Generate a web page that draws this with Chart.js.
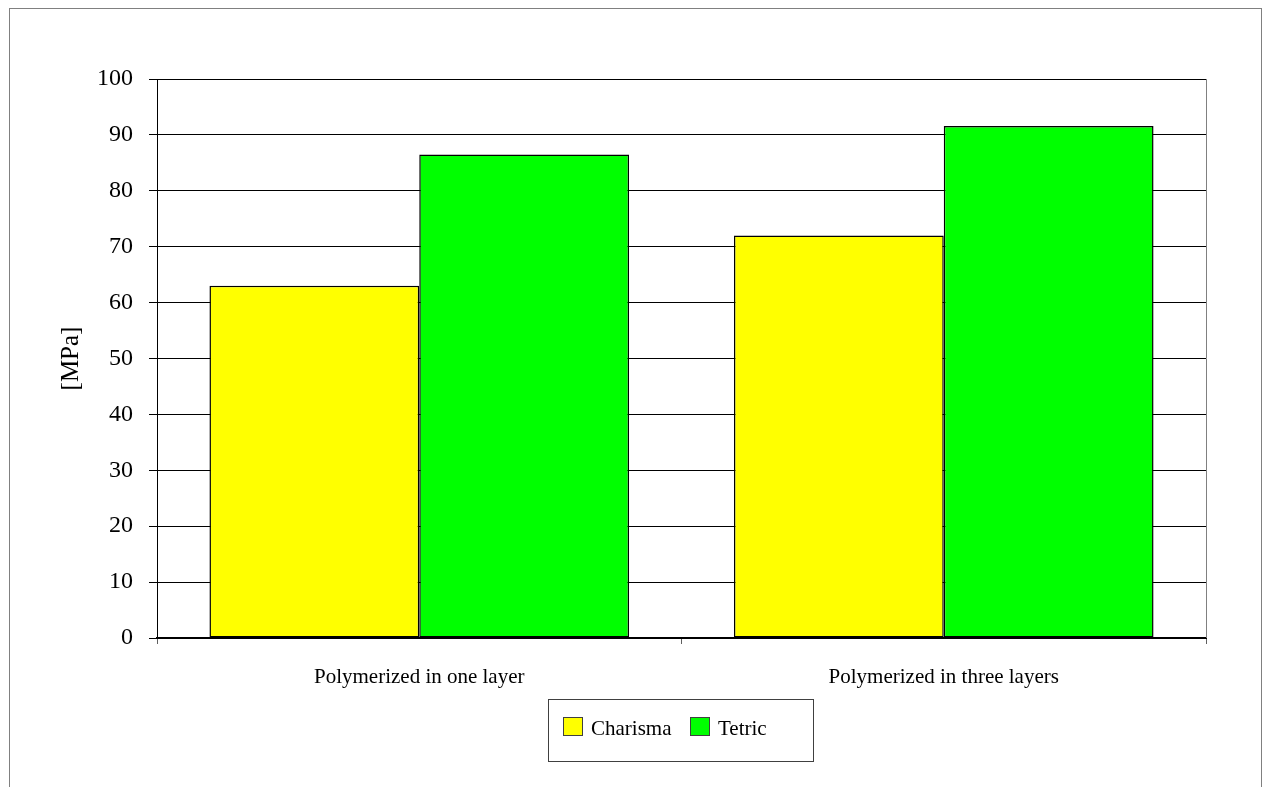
<!DOCTYPE html>
<html>
<head>
<meta charset="utf-8">
<script src="https://cdn.jsdelivr.net/npm/chart.js@4.4.1/dist/chart.umd.min.js"></script>
<style>
  html, body { margin: 0; padding: 0; background: #fff; }
  #wrap { width: 1262px; height: 787px; position: relative; }
</style>
</head>
<body>
<div id="wrap"><canvas id="chart" width="1262" height="787"></canvas></div>
<script>
// data
const categories = ['Polymerized in one layer', 'Polymerized in three layers'];
const charisma = [63, 72];
const tetric = [86.5, 91.6];
const seriesNames = ['Charisma', 'Tetric'];
const seriesColors = ['#FFFF00', '#00FF00'];

const serif = "'Liberation Serif', 'Times New Roman', serif";

// outer frame, right plot edge and the boxed legend
const decor = {
  id: 'decor',
  afterDraw(chart) {
    const ctx = chart.ctx;
    const a = chart.chartArea;
    ctx.save();
    // frame round the whole chart
    ctx.strokeStyle = '#808080';
    ctx.lineWidth = 1;
    ctx.strokeRect(9.5, 8.5, 1252, 900);
    // right side of the plot
    ctx.beginPath();
    ctx.moveTo(a.right + 0.5, a.top);
    ctx.lineTo(a.right + 0.5, a.bottom);
    ctx.stroke();

    // legend box
    ctx.strokeStyle = '#404040';
    ctx.strokeRect(548.5, 699.5, 265, 62);
    ctx.font = '21px ' + serif;
    ctx.textBaseline = 'middle';
    ctx.textAlign = 'left';
    const xs = [563, 690];
    chart.data.datasets.forEach((d, i) => {
      ctx.fillStyle = d.backgroundColor;
      ctx.fillRect(xs[i], 717, 20, 19);
      ctx.strokeStyle = '#404040';
      ctx.strokeRect(xs[i] + 0.5, 717.5, 19, 18);
      ctx.fillStyle = '#000';
      ctx.fillText(d.label, xs[i] + 28, 729);
    });
    ctx.restore();
  }
};

new Chart(document.getElementById('chart'), {
  type: 'bar',
  data: {
    labels: categories,
    datasets: [
      { label: seriesNames[0], data: charisma, backgroundColor: seriesColors[0] },
      { label: seriesNames[1], data: tetric, backgroundColor: seriesColors[1] }
    ]
  },
  options: {
    responsive: false,
    animation: false,
    devicePixelRatio: 1,
    layout: { padding: { left: 0, top: 79, right: 56, bottom: 0 } },
    datasets: {
      bar: {
        borderColor: '#000',
        borderWidth: 1.5,
        borderSkipped: false,
        categoryPercentage: 0.8,
        barPercentage: 1.0
      }
    },
    plugins: {
      legend: { display: false },
      tooltip: { enabled: false }
    },
    scales: {
      x: {
        afterFit(scale) { scale.height = 149; },
        grid: {
          offset: true,
          drawOnChartArea: false,
          drawTicks: true,
          tickLength: 6,
          color: '#606060'
        },
        border: { color: '#000', width: 2 },
        ticks: {
          color: '#000',
          padding: 21,
          maxRotation: 0,
          font: { family: serif, size: 21 }
        }
      },
      y: {
        min: 0,
        max: 100,
        afterFit(scale) { scale.width = 157; },
        ticks: {
          stepSize: 10,
          color: '#000',
          padding: 16,
          font: { family: serif, size: 24 }
        },
        grid: {
          color: '#000',
          lineWidth: 1,
          drawTicks: true,
          tickLength: 8
        },
        border: { color: '#000', width: 1 },
        title: {
          display: true,
          text: '[MPa]',
          color: '#000',
          padding: { top: 56, bottom: 0 },
          font: { family: serif, size: 25 }
        }
      }
    }
  },
  plugins: [decor]
});
</script>
</body>
</html>
